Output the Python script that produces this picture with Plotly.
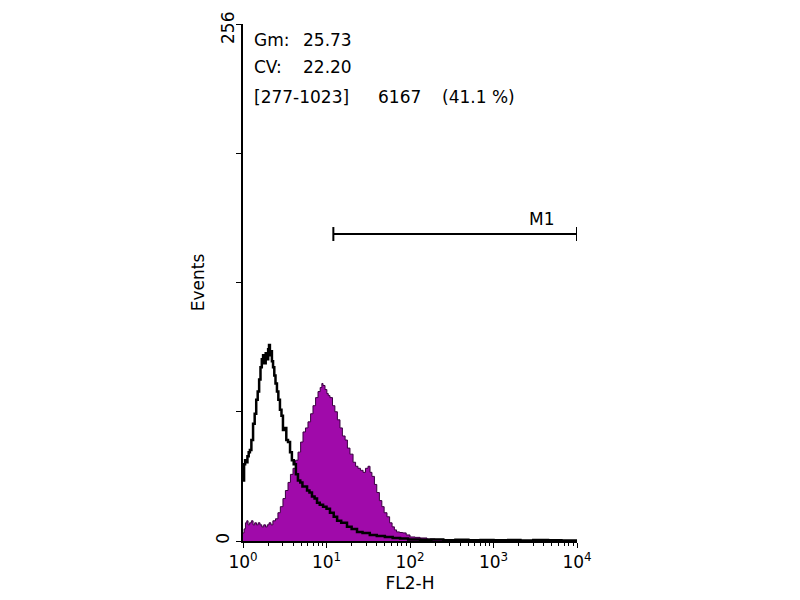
import plotly.graph_objects as go

# ---- data ----
# control (open black histogram): FL2-H value, events
ctrl_x = [1.00, 1.03, 1.06, 1.09, 1.13, 1.17, 1.21, 1.26, 1.32, 1.38, 1.44, 1.50, 1.56, 1.62,
          1.68, 1.74, 1.80, 1.87, 1.94, 2.00, 2.05, 2.10, 2.16, 2.22, 2.29, 2.37, 2.45, 2.55,
          2.65, 2.77, 2.89, 3.01, 3.15, 3.30, 3.46, 3.66, 3.85, 4.05, 4.30, 4.55, 4.85, 5.15,
          5.50, 5.85, 6.25, 6.70, 7.20, 7.70, 8.30, 9.10, 10.0, 11.0, 12.2, 13.4, 15.0, 17.6,
          20.0, 23.2, 27, 33, 40, 50, 62, 76, 95, 132, 180, 250, 350, 500, 700, 1000, 1500,
          2100, 3000, 4500, 6500, 10000]
ctrl_y = [30, 38, 40, 39, 42, 44, 45, 50, 58, 63, 70, 74, 80, 86,
          90, 92, 88, 93, 90, 95, 97, 92, 94, 89, 86, 82, 78, 74,
          70, 65, 62, 55, 56, 50, 49, 44, 40, 38, 33, 30, 29, 27,
          27, 25, 24, 22, 21, 19, 18, 17, 16, 14, 12, 10, 9, 7,
          6, 4.5, 4, 3, 2.5, 2, 1.5, 1.2, 0.8, 0.6, 0.7, 0.4, 0.6, 0.4, 0.5, 0.4, 0.5,
          0.3, 0.5, 0.4, 0.3, 0.4]

# stained sample (filled purple histogram)
samp_x = [1.00, 1.03, 1.07, 1.11, 1.15, 1.20, 1.26, 1.32, 1.38, 1.45, 1.52, 1.60, 1.68, 1.77,
          1.86, 1.95, 2.05, 2.16, 2.28, 2.45, 2.62, 2.80, 3.01, 3.22, 3.46, 3.70, 3.97, 4.25,
          4.56, 4.90, 5.23, 5.60, 6.00, 6.45, 6.89, 7.40, 7.91, 8.40, 8.80, 9.08, 9.60, 10.1,
          10.5, 11.0, 11.8, 12.6, 13.5, 14.5, 15.5, 16.7, 17.8, 19.1, 20.8, 22.3, 23.8, 25.5,
          27.4, 29.3, 31.4, 33.2, 35, 37.5, 40, 43, 46, 49, 53, 57, 61, 65, 69, 75, 82, 90,
          100, 115, 132, 160, 200, 260, 350, 500, 800, 1500, 10000]
samp_y = [4, 6, 9, 10, 8, 9, 10, 8, 9, 8, 9, 8, 7, 8,
          7, 8, 9, 8, 10, 11, 14, 17, 21, 25, 29, 33, 36, 40,
          44, 49, 54, 56, 59, 63, 67, 71, 74, 76, 78, 77, 75, 73,
          72, 71, 67, 64, 60, 56, 52, 50, 46, 43, 39, 37, 36, 35,
          34, 36, 37, 34, 32, 28, 24, 20, 17, 14, 12, 9, 7, 5.5, 4.5, 4.2, 4, 3,
          2, 1.8, 1.5, 1, 0.8, 0.6, 0.4, 0.3, 0.2, 0.1, 0]

# marker gate M1 (channels 277-1023)
m1_x = [12.08, 10000]
m1_level = [152, 152]
m1_label = "M1"

stats_rows = [("Gm:", "25.73"), ("CV:", "22.20")]
gate_text = ("[277-1023]", "6167", "(41.1 %)")

x_tickvals = [1, 10, 100, 1000, 10000]
x_ticktext = ["10<sup>0</sup>", "10<sup>1</sup>", "10<sup>2</sup>", "10<sup>3</sup>", "10<sup>4</sup>"]
y_max = 256
y_tickvals = [0, 64, 128, 192, 256]
y_ticktext = ["0", "", "", "", ""]   # top label "256" drawn separately so it is not clipped

FONT = "DejaVu Sans, Arial, sans-serif"
FS = 17
PURPLE = "#A00AAA"

fig = go.Figure()
fig.add_trace(go.Scatter(x=samp_x, y=samp_y, mode="lines", line_shape="hv",
                         line=dict(color="#3a0040", width=1), fill="tozeroy",
                         fillcolor=PURPLE, showlegend=False))
fig.add_trace(go.Scatter(x=ctrl_x, y=ctrl_y, mode="lines", line_shape="hv",
                         line=dict(color="black", width=2.5), showlegend=False))
fig.add_trace(go.Scatter(x=m1_x, y=m1_level, mode="lines+markers",
                         line=dict(color="black", width=2),
                         marker=dict(symbol="line-ns", size=10, line=dict(color="black", width=2)),
                         showlegend=False))

fig.add_annotation(x=3.58, y=m1_level[0], xref="x", yref="y", text=m1_label,
                   showarrow=False, yshift=15, font=dict(family=FONT, size=FS, color="black"))

# top y tick label
fig.add_annotation(x=0, y=y_max, xref="paper", yref="y", text=str(y_max), textangle=-90,
                   showarrow=False, xanchor="center", yanchor="middle", xshift=-15, yshift=-4,
                   font=dict(family=FONT, size=FS, color="black"))

# stats text
row_y = [0.969, 0.917]
for (lab, val), yy in zip(stats_rows, row_y):
    fig.add_annotation(x=0.027, y=yy, xref="paper", yref="paper", text=lab, showarrow=False,
                       xanchor="left", yanchor="middle", font=dict(family=FONT, size=FS, color="black"))
    fig.add_annotation(x=0.175, y=yy, xref="paper", yref="paper", text=val, showarrow=False,
                       xanchor="left", yanchor="middle", font=dict(family=FONT, size=FS, color="black"))
for txt, xx in zip(gate_text, [0.027, 0.398, 0.590]):
    fig.add_annotation(x=xx, y=0.859, xref="paper", yref="paper", text=txt, showarrow=False,
                       xanchor="left", yanchor="middle", font=dict(family=FONT, size=FS, color="black"))

minor_vals = [m * 10 ** d for d in range(4) for m in range(2, 10)]

fig.update_xaxes(type="log", range=[0, 4], showline=True, linecolor="black", linewidth=2,
                 showgrid=False, zeroline=False, tickvals=x_tickvals, ticktext=x_ticktext,
                 ticks="outside", ticklen=5, tickwidth=1, tickcolor="black",
                 ticklabeloverflow="allow", automargin=False,
                 minor=dict(tickvals=minor_vals, ticks="outside", ticklen=3, tickcolor="black", showgrid=False),
                 tickfont=dict(family=FONT, size=FS, color="black"),
                 title=dict(text="FL2-H", font=dict(family=FONT, size=FS, color="black"), standoff=6))
fig.update_yaxes(range=[0, y_max], showline=True, linecolor="black", linewidth=2,
                 showgrid=False, zeroline=False, tickvals=y_tickvals, ticktext=y_ticktext,
                 ticks="outside", ticklen=5, tickwidth=1, tickcolor="black", tickangle=-90,
                 ticklabeloverflow="allow", automargin=False,
                 tickfont=dict(family=FONT, size=FS, color="black"),
                 title=dict(text="Events", font=dict(family=FONT, size=FS, color="black"), standoff=4))

# the page adds an 8px body margin, so shift the plot area back by 8px
fig.update_layout(width=800, height=600, plot_bgcolor="white", paper_bgcolor="white",
                  margin=dict(l=235, r=231, t=16, b=67), showlegend=False)

fig.write_html("out.html")
